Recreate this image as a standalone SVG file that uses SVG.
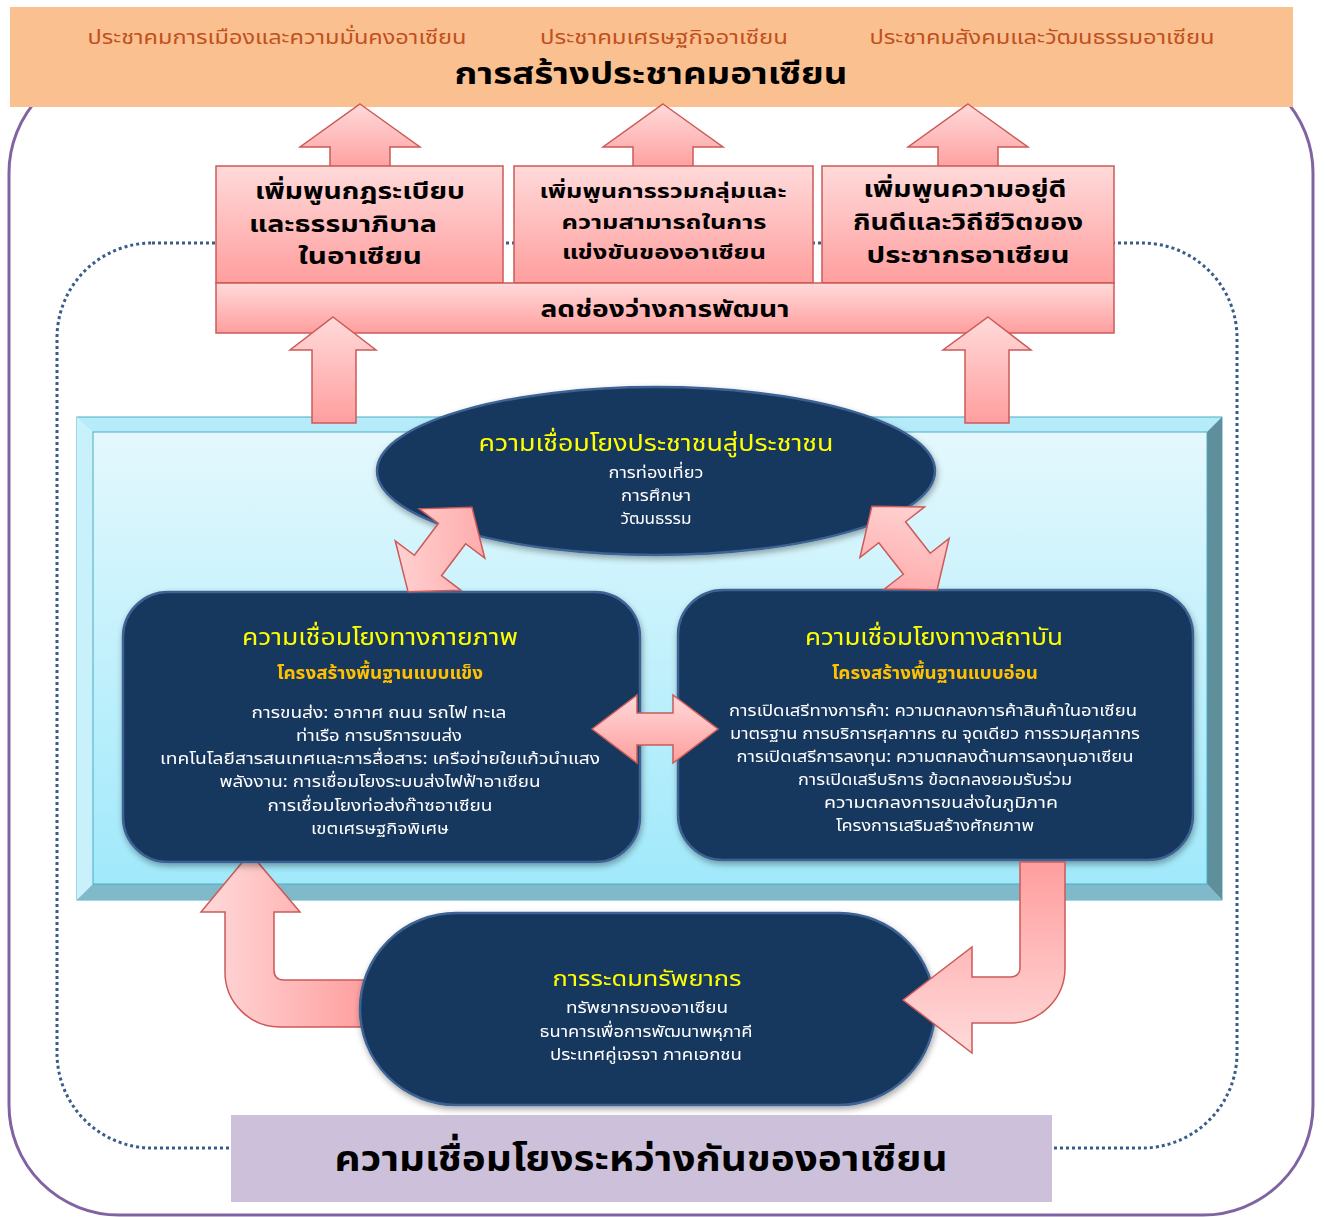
<svg xmlns="http://www.w3.org/2000/svg" width="1325" height="1217" viewBox="0 0 1325 1217">
<defs>
<style>
text{font-family:'Noto Sans Thai','Noto Sans','DejaVu Sans',sans-serif;text-anchor:middle;dominant-baseline:central}
.sub{fill:#C0501E;font-size:20px}
.ttl{fill:#000;font-size:30px;font-weight:bold}
.pk{fill:#000;font-size:23px;font-weight:bold}
.pm{fill:#000;font-size:20px;font-weight:bold}
.yt{fill:#FFFF00;font-size:23px}
.gd{fill:#FFC000;font-size:18px;font-weight:bold}
.wt{fill:#FFFFFF;font-size:16px}
.big{fill:#000;font-size:36px;font-weight:bold}
.navy{fill:#17375E;stroke:#3E6394;stroke-width:2.5}
.arr{stroke:#CC5A58;stroke-width:1.5}
</style>
<linearGradient id="pv" x1="0" y1="0" x2="0" y2="1"><stop offset="0" stop-color="#FFDADA"/><stop offset="1" stop-color="#FF9E9E"/></linearGradient>
<linearGradient id="pvr" x1="0" y1="0" x2="0" y2="1"><stop offset="0" stop-color="#FF9E9E"/><stop offset="1" stop-color="#FFDADA"/></linearGradient>
<linearGradient id="ph" x1="0" y1="0" x2="1" y2="0"><stop offset="0" stop-color="#FFDADA"/><stop offset="1" stop-color="#FF9E9E"/></linearGradient>
<linearGradient id="pd" x1="0" y1="0" x2="1" y2="1"><stop offset="0" stop-color="#FFDADA"/><stop offset="1" stop-color="#FFA3A3"/></linearGradient>
<linearGradient id="cy" x1="0" y1="0" x2="0" y2="1"><stop offset="0" stop-color="#E4F8FD"/><stop offset="1" stop-color="#A0E9FB"/></linearGradient>
<filter id="sh" x="-10%" y="-10%" width="120%" height="125%"><feDropShadow dx="1" dy="3" stdDeviation="3" flood-color="#000" flood-opacity="0.35"/></filter>
</defs>

<g id="frame">
<rect x="9" y="63" width="1304" height="1152" rx="110" fill="none" stroke="#8064A2" stroke-width="3"/>
<rect x="57" y="243" width="1180" height="905" rx="95" fill="none" stroke="#385D8A" stroke-width="3" stroke-dasharray="3 3"/>
</g>

<g id="banner">
<rect x="10" y="7" width="1283" height="100" fill="#FAC090"/>
<text class="sub" x="277" y="38" textLength="379" lengthAdjust="spacingAndGlyphs">ประชาคมการเมืองและความมั่นคงอาเซียน</text>
<text class="sub" x="664" y="38" textLength="248" lengthAdjust="spacingAndGlyphs">ประชาคมเศรษฐกิจอาเซียน</text>
<text class="sub" x="1042" y="38" textLength="345" lengthAdjust="spacingAndGlyphs">ประชาคมสังคมและวัฒนธรรมอาเซียน</text>
<text class="ttl" x="651" y="75" textLength="393" lengthAdjust="spacingAndGlyphs">การสร้างประชาคมอาเซียน</text>
</g>

<g id="connectors">
<path class="arr" fill="url(#pv)" d="M360,104 L420,147 L390,147 L390,170 L330,170 L330,147 L300,147 Z"/>
<path class="arr" fill="url(#pv)" d="M663,104 L723,147 L693,147 L693,170 L633,170 L633,147 L603,147 Z"/>
<path class="arr" fill="url(#pv)" d="M968,104 L1028,147 L998,147 L998,170 L938,170 L938,147 L908,147 Z"/>
</g>

<g id="goals">
<rect x="216" y="166" width="287" height="117" fill="url(#pv)" stroke="#CC5A58" stroke-width="1.5"/>
<rect x="514" y="166" width="299" height="117" fill="url(#pv)" stroke="#CC5A58" stroke-width="1.5"/>
<rect x="822" y="166" width="292" height="117" fill="url(#pv)" stroke="#CC5A58" stroke-width="1.5"/>
<text class="pk" x="360" y="192" textLength="210" lengthAdjust="spacingAndGlyphs">เพิ่มพูนกฎระเบียบ</text>
<text class="pk" x="343" y="225" textLength="188" lengthAdjust="spacingAndGlyphs">และธรรมาภิบาล</text>
<text class="pk" x="360" y="257" textLength="124" lengthAdjust="spacingAndGlyphs">ในอาเซียน</text>
<text class="pm" x="663" y="192" textLength="247" lengthAdjust="spacingAndGlyphs">เพิ่มพูนการรวมกลุ่มและ</text>
<text class="pm" x="664" y="223" textLength="205" lengthAdjust="spacingAndGlyphs">ความสามารถในการ</text>
<text class="pm" x="664" y="253" textLength="204" lengthAdjust="spacingAndGlyphs">แข่งขันของอาเซียน</text>
<text class="pk" x="965" y="190" textLength="203" lengthAdjust="spacingAndGlyphs">เพิ่มพูนความอยู่ดี</text>
<text class="pk" x="968" y="223" textLength="230" lengthAdjust="spacingAndGlyphs">กินดีและวิถีชีวิตของ</text>
<text class="pk" x="968" y="256" textLength="203" lengthAdjust="spacingAndGlyphs">ประชากรอาเซียน</text>
</g>

<g id="gap-bar">
<rect x="216" y="283" width="898" height="50" fill="url(#pv)" stroke="#CC5A58" stroke-width="1.5"/>
<text class="pk" x="665" y="310" textLength="249" lengthAdjust="spacingAndGlyphs">ลดช่องว่างการพัฒนา</text>
</g>

<g id="panel">
<rect x="77" y="417" width="1145" height="483" fill="#B6ECF9" stroke="#4BACC6" stroke-width="1"/>
<polygon points="77,417 93,432 93,884 77,900" fill="#C9F1FB"/>
<polygon points="1222,417 1207,432 1207,884 1222,900" fill="#5F8F9B"/>
<polygon points="77,900 93,884 1207,884 1222,900" fill="#80B9C9"/>
<rect x="93" y="432" width="1114" height="452" fill="url(#cy)" stroke="#4BACC6" stroke-width="1"/>
</g>

<g id="connectors2">
<path class="arr" fill="url(#pv)" d="M333,317 L376,350 L356,350 L356,423 L312,423 L312,350 L290,350 Z"/>
<path class="arr" fill="url(#pv)" d="M988,317 L1031,350 L1009,350 L1009,423 L965,423 L965,350 L943,350 Z"/>
<path class="arr" fill="url(#ph)" d="M367,980 L284,980 Q274,980 274,970 L274,912 L300,912 L250,853 L201,912 L225,912 L225,972 A55,55 0 0 0 280,1027 L367,1027 Z"/>
</g>

<g id="people" filter="url(#sh)">
<ellipse class="navy" cx="656" cy="471" rx="279" ry="84"/>
<text class="yt" x="656" y="444" textLength="355" lengthAdjust="spacingAndGlyphs">ความเชื่อมโยงประชาชนสู่ประชาชน</text>
<text class="wt" x="656" y="473" textLength="95" lengthAdjust="spacingAndGlyphs">การท่องเที่ยว</text>
<text class="wt" x="656" y="496" textLength="70" lengthAdjust="spacingAndGlyphs">การศึกษา</text>
<text class="wt" x="656" y="519" textLength="71" lengthAdjust="spacingAndGlyphs">วัฒนธรรม</text>
</g>

<g id="physical" filter="url(#sh)">
<rect class="navy" x="123" y="592" width="517" height="270" rx="45"/>
<text class="yt" x="380" y="638" textLength="276" lengthAdjust="spacingAndGlyphs">ความเชื่อมโยงทางกายภาพ</text>
<text class="gd" x="380" y="673" textLength="206" lengthAdjust="spacingAndGlyphs">โครงสร้างพื้นฐานแบบแข็ง</text>
<text class="wt" x="379" y="713" textLength="255" lengthAdjust="spacingAndGlyphs">การขนส่ง: อากาศ ถนน รถไฟ ทะเล</text>
<text class="wt" x="379" y="736" textLength="166" lengthAdjust="spacingAndGlyphs">ท่าเรือ การบริการขนส่ง</text>
<text class="wt" x="380" y="759" textLength="440" lengthAdjust="spacingAndGlyphs">เทคโนโลยีสารสนเทศและการสื่อสาร: เครือข่ายใยแก้วนำแสง</text>
<text class="wt" x="380" y="782" textLength="321" lengthAdjust="spacingAndGlyphs">พลังงาน: การเชื่อมโยงระบบส่งไฟฟ้าอาเซียน</text>
<text class="wt" x="380" y="806" textLength="225" lengthAdjust="spacingAndGlyphs">การเชื่อมโยงท่อส่งก๊าซอาเซียน</text>
<text class="wt" x="380" y="829" textLength="138" lengthAdjust="spacingAndGlyphs">เขตเศรษฐกิจพิเศษ</text>
</g>

<g id="institutional" filter="url(#sh)">
<rect class="navy" x="678" y="590" width="515" height="270" rx="45"/>
<text class="yt" x="934" y="638" textLength="258" lengthAdjust="spacingAndGlyphs">ความเชื่อมโยงทางสถาบัน</text>
<text class="gd" x="935" y="673" textLength="206" lengthAdjust="spacingAndGlyphs">โครงสร้างพื้นฐานแบบอ่อน</text>
<text class="wt" x="933" y="711" textLength="408" lengthAdjust="spacingAndGlyphs">การเปิดเสรีทางการค้า: ความตกลงการค้าสินค้าในอาเซียน</text>
<text class="wt" x="935" y="734" textLength="410" lengthAdjust="spacingAndGlyphs">มาตรฐาน การบริการศุลกากร ณ จุดเดียว การรวมศุลกากร</text>
<text class="wt" x="935" y="757" textLength="397" lengthAdjust="spacingAndGlyphs">การเปิดเสรีการลงทุน: ความตกลงด้านการลงทุนอาเซียน</text>
<text class="wt" x="935" y="780" textLength="274" lengthAdjust="spacingAndGlyphs">การเปิดเสรีบริการ ข้อตกลงยอมรับร่วม</text>
<text class="wt" x="941" y="803" textLength="234" lengthAdjust="spacingAndGlyphs">ความตกลงการขนส่งในภูมิภาค</text>
<text class="wt" x="935" y="826" textLength="198" lengthAdjust="spacingAndGlyphs">โครงการเสริมสร้างศักยภาพ</text>
</g>

<g id="resources" filter="url(#sh)">
<rect class="navy" x="360" y="913" width="575" height="192" rx="96"/>
<text class="yt" x="647" y="979" style="font-size:21px" textLength="189" lengthAdjust="spacingAndGlyphs">การระดมทรัพยากร</text>
<text class="wt" x="647" y="1008" textLength="162" lengthAdjust="spacingAndGlyphs">ทรัพยากรของอาเซียน</text>
<text class="wt" x="646" y="1032" textLength="213" lengthAdjust="spacingAndGlyphs">ธนาคารเพื่อการพัฒนาพหุภาคี</text>
<text class="wt" x="646" y="1055" textLength="192" lengthAdjust="spacingAndGlyphs">ประเทศคู่เจรจา ภาคเอกชน</text>
</g>

<g id="connectors3">
<path class="arr" fill="url(#pvr)" d="M1020,862 L1065,862 L1065,968 A55,55 0 0 1 1010,1023 L972,1023 L972,1053 L903,1000 L972,947 L972,977 L1010,977 Q1020,977 1020,967 Z"/>
<path class="arr" fill="url(#pd)" transform="translate(440,549.5) rotate(-53)" d="M-53,0 L-20,-41 L-20,-17 L20,-17 L20,-41 L53,0 L20,41 L20,17 L-20,17 L-20,41 Z"/>
<path class="arr" fill="url(#pd)" transform="translate(904.5,548) rotate(52)" d="M-53,0 L-20,-41 L-20,-17 L20,-17 L20,-41 L53,0 L20,41 L20,17 L-20,17 L-20,41 Z"/>
<path class="arr" fill="url(#pv)" transform="translate(655,729)" d="M-63,0 L-18,-34 L-18,-16 L18,-16 L18,-34 L63,0 L18,34 L18,16 L-18,16 L-18,34 Z"/>
</g>

<g id="footer">
<rect x="231" y="1115" width="821" height="87" fill="#CCC0DA"/>
<text class="big" x="641" y="1160" textLength="613" lengthAdjust="spacingAndGlyphs">ความเชื่อมโยงระหว่างกันของอาเซียน</text>
</g>
</svg>
